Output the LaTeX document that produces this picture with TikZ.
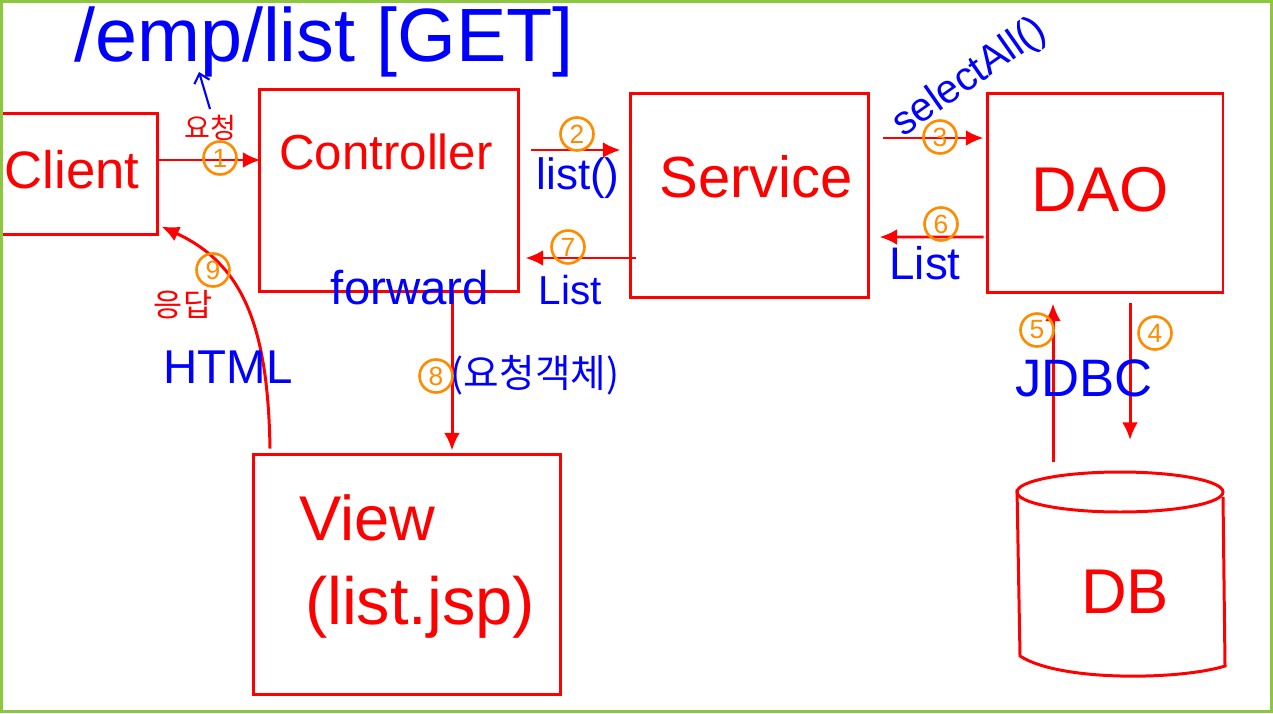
\documentclass[tikz,border=0pt]{standalone}
\usepackage{fontspec}
\setmainfont{Liberation Sans}
\newfontfamily\kr{Noto Sans CJK KR}
\usetikzlibrary{calc,arrows.meta}

\definecolor{pen}{RGB}{255,0,0}
\definecolor{ink}{RGB}{0,0,255}
\definecolor{orng}{RGB}{255,140,0}
\definecolor{frame}{RGB}{141,198,63}
\newcommand{\fsz}[1]{\fontsize{#1}{#1}\selectfont}

\begin{document}
\begin{tikzpicture}[x=0.02cm, y=-0.02cm]
\tikzset{ >={Latex[length=10pt,width=9pt]},
  box/.style={draw=pen, line width=1.7pt, inner sep=0pt},
  arr/.style={->, draw=pen, line width=1.7pt},
  txt/.style={text=pen, font=\fsz{30}},
  lbl/.style={text=ink, font=\fsz{25}},
  num/.style={circle, draw=orng, text=orng, line width=1.5pt, minimum size=0.66cm, inner sep=0pt, font=\fsz{15}},
}

\useasboundingbox (0,0) rectangle (1273,713);
\clip (0,0) rectangle (1273,713);

% boxes
\node [box, minimum width=3.36cm, minimum height=2.44cm] (client) at (74,174) {};
\node [box, minimum width=5.2cm,  minimum height=4.06cm] (ctrl)   at (389,190.5) {};
\node [box, minimum width=4.78cm, minimum height=4.1cm]  (svc)    at (749.5,195.5) {};
\node [box, minimum width=4.72cm, minimum height=4cm]    (dao)    at (1105,193) {};
\node [box, minimum width=6.16cm, minimum height=4.82cm] (view)   at (407,574.5) {};

% DB
\coordinate (dbtop) at (1120,472);
\draw [box] (1120,492) ellipse [x radius=2.06cm, y radius=0.4cm];
\draw [box] (1017,489) -- (1020,656) .. controls (1060,682) and (1180,680) .. (1225,666) -- (1223,497);

\node [txt]              (clienttxt) at (72,170)   {Client};
\node [txt, font=\fsz{28}] (ctrltxt) at (386,152)  {Controller};
\node [txt, font=\fsz{33}] (svctxt)  at (756,177)  {Service};
\node [txt, font=\fsz{36}] (daotxt)  at (1100,190) {DAO};
\node [txt, font=\fsz{36}] (viewtxt) at (367,518)  {View};
\node [txt, font=\fsz{38}] (jsptxt)  at (420,607)  {(list.jsp)};
\node [txt, font=\fsz{36}] (dbtxt)   at (1125,592) {DB};

\node [text=ink, font=\fsz{43}, anchor=base west] (title) at (68,62) {/emp/list [GET]};

% arrows
\draw [arr] ($(client.east)+(-3,-14)$) -- ($(ctrl.west)+(3,-30.5)$);
\draw [arr] ($(ctrl.east)+(11,-40.5)$) -- ($(svc.west)+(-8,-45.5)$);
\draw [arr] ($(svc.east)+(13,-57.5)$)  -- ($(dao.west)+(-2,-55)$);
\draw [arr] ($(dao.south)+(25,9)$)     -- ($(dbtop)+(10,-32)$);
\draw [arr] ($(dbtop)+(-67,-10)$)      -- ($(dao.south)+(-52,9)$);
\draw [arr] ($(dao.west)+(-2,44)$)     -- ($(svc.east)+(9,41.5)$);
\draw [arr] ($(svc.west)+(7,62.5)$)    -- ($(ctrl.east)+(5,67.5)$);
\draw [arr] ($(ctrl.south)+(63,0)$)    -- ($(view.north)+(45,-2)$);
\draw [arr] ($(view.north)+(-137,-4)$) .. controls (268,330) and (245,265) .. ($(client.south east)+(2,-10)$);

% labels
\node [text=pen, font={\kr\fsz{16}}] (req)  at (210,128) {요청};
\node [text=pen, font={\kr\fsz{18}}] (resp) at (183,305) {응답};
\draw [ink, line width=1.2pt, -{Straight Barb[length=5pt,width=9pt]}] (req.north) -- ($(title.base west)+(131,10)$);

\node [lbl]                (lst)    at (578,178) {list()};
\node [lbl, font=\fsz{23}] (lsta)   at (570,290) {List};
\node [lbl, font=\fsz{26}] (lstb)   at (925,263) {List};
\node [lbl, font=\fsz{27}] (fwd)    at (410,288) {forward};
\node [lbl, font=\fsz{27}] (html)   at (228,367) {HTML};
\node [lbl, font=\fsz{30}] (jdbc)   at (1084,378) {JDBC};
\node [lbl, font=\fsz{23}, rotate=35] (sel) at (970,78) {selectAll()};
\node [lbl, font={\kr\fsz{22}}] (reqobj) at (535,375) {(요청객체)};

\node [num] (n1) at (220,158)  {1};
\node [num] (n2) at (577,134)  {2};
\node [num] (n3) at (940,137)  {3};
\node [num] (n4) at (1155,333) {4};
\node [num] (n5) at (1037,330) {5};
\node [num] (n6) at (941,224)  {6};
\node [num] (n7) at (568,247)  {7};
\node [num] (n8) at (436,376)  {8};
\node [num] (n9) at (213,270)  {9};

\draw [frame, line width=1.5pt] (1.5,1.5) rectangle (1271.5,711.5);

\end{tikzpicture}
\end{document}
